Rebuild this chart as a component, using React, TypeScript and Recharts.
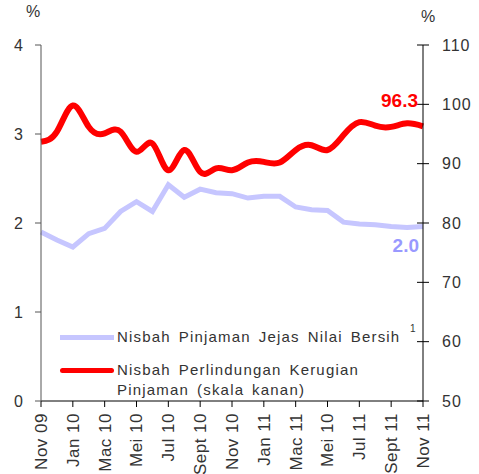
import { LineChart, Line, XAxis, YAxis, Legend } from 'recharts';

const months = [
  'Nov 09', 'Dis 09', 'Jan 10', 'Feb 10', 'Mac 10', 'Apr 10', 'Mei 10', 'Jun 10',
  'Jul 10', 'Ogos 10', 'Sept 10', 'Okt 10', 'Nov 10', 'Dis 10', 'Jan 11', 'Feb 11',
  'Mac 11', 'Apr 11', 'Mei 11', 'Jun 11', 'Jul 11', 'Ogos 11', 'Sept 11', 'Okt 11', 'Nov 11',
];

// every second month gets a label (the original repeats "Mei 10")
const tickLabels = [
  'Nov 09', 'Jan 10', 'Mac 10', 'Mei 10', 'Jul 10', 'Sept 10', 'Nov 10',
  'Jan 11', 'Mac 11', 'Mei 10', 'Jul 11', 'Sept 11', 'Nov 11',
];

const impairedRatio = [
  1.90, 1.81, 1.73, 1.88, 1.94, 2.13, 2.24, 2.13, 2.43, 2.29, 2.38, 2.34, 2.33,
  2.28, 2.30, 2.30, 2.18, 2.15, 2.14, 2.01, 1.99, 1.98, 1.96, 1.95, 1.96,
];

const coverageRatio = [
  93.7, 95.4, 99.8, 96.2, 95.1, 95.4, 92.0, 93.4, 88.9, 92.3, 88.6, 89.2, 88.9,
  90.2, 90.3, 90.2, 92.3, 93.1, 92.3, 94.8, 97.0, 96.4, 96.2, 96.8, 96.3,
];

const leftTicks = [0, 1, 2, 3, 4];
const rightTicks = [50, 60, 70, 80, 90, 100, 110];

const data = months.map((m, i) => ({
  month: m,
  impaired: impairedRatio[i],
  coverage: coverageRatio[i],
}));

const FONT = '"Liberation Sans", Arial, sans-serif';
const TEXT = '#333333';

const XTick = (props: any) => {
  const { x, y, index } = props;
  return (
    <text
      x={x}
      y={y}
      transform={`rotate(-90 ${x} ${y})`}
      textAnchor="end"
      dy="0.35em"
      fontSize={17}
      letterSpacing={0.5}
      fontFamily={FONT}
      fill={TEXT}
    >
      {tickLabels[index]}
    </text>
  );
};

const RightTick = (props: any) => {
  const { x, y, payload } = props;
  const axisX = x - 19;
  return (
    <g>
      <line x1={axisX - 6} x2={axisX} y1={y} y2={y} stroke="#000" />
      <text x={x} y={y} dy="0.35em" fontSize={16} letterSpacing={1} fontFamily={FONT} fill={TEXT}>
        {payload.value}
      </text>
    </g>
  );
};

const endLabel = (color: string, dx: number, dy: number, text: string) => (props: any) => {
  const { x, y, index } = props;
  if (index !== months.length - 1) return null;
  return (
    <text
      x={x + dx}
      y={y + dy}
      textAnchor="end"
      fontSize={19}
      fontWeight="bold"
      fontFamily={FONT}
      fill={color}
    >
      {text}
    </text>
  );
};

const renderLegend = () => (
  <div style={{ fontFamily: FONT, fontSize: 15, color: TEXT, letterSpacing: 1.2, wordSpacing: 2.5, lineHeight: '20px' }}>
    <div style={{ display: 'flex', alignItems: 'flex-start', height: 33, position: 'relative' }}>
      <span style={{ width: 54, height: 5, background: '#c6c6ff', marginTop: 8, marginRight: 3 }} />
      <span>Nisbah Pinjaman Jejas Nilai Bersih</span>
      <span style={{ position: 'absolute', left: 350, top: -8, fontSize: 10, letterSpacing: 0 }}>1</span>
    </div>
    <div style={{ display: 'flex', alignItems: 'flex-start' }}>
      <span style={{ width: 54, height: 5, background: '#ff0000', borderRadius: 3, marginTop: 8, marginRight: 3 }} />
      <span>
        Nisbah Perlindungan Kerugian
        <br />
        Pinjaman (skala kanan)
      </span>
    </div>
  </div>
);

const App = () => (
  <div style={{ position: 'absolute', left: 0, top: 0, width: 479, height: 474, background: '#fff' }}>
    <div style={{ position: 'absolute', left: 26, top: 3, fontFamily: FONT, fontSize: 16, color: TEXT }}>%</div>
    <div style={{ position: 'absolute', left: 421, top: 8, fontFamily: FONT, fontSize: 16, color: TEXT }}>%</div>
    <LineChart width={479} height={474} data={data} margin={{ top: 45, right: 0, bottom: 0, left: 0 }}>
      <XAxis
        dataKey="month"
        interval={1}
        height={73}
        tickSize={6}
        tickMargin={6}
        stroke="#000"
        tick={<XTick />}
        padding={{ left: 0, right: 0 }}
      />
      <YAxis
        yAxisId="left"
        domain={[0, 4]}
        ticks={leftTicks}
        width={41}
        tickSize={6}
        tickMargin={12}
        stroke="#555"
        tick={{ fontSize: 16, fill: TEXT, fontFamily: FONT }}
      />
      <YAxis
        yAxisId="right"
        orientation="right"
        domain={[50, 110]}
        ticks={rightTicks}
        width={56}
        tickSize={6}
        tickMargin={13}
        stroke="#000"
        tick={<RightTick />}
      />
      <Legend
        verticalAlign="middle"
        align="center"
        content={renderLegend}
        wrapperStyle={{ left: 60, top: 327, width: 370 }}
      />
      <Line
        yAxisId="left"
        dataKey="impaired"
        name="Nisbah Pinjaman Jejas Nilai Bersih"
        type="linear"
        stroke="#c6c6ff"
        strokeWidth={5}
        dot={false}
        label={endLabel('#9999ff', -4, 25, '2.0')}
        isAnimationActive={false}
      />
      <Line
        yAxisId="right"
        dataKey="coverage"
        name="Nisbah Perlindungan Kerugian Pinjaman (skala kanan)"
        type="natural"
        stroke="#ff0000"
        strokeWidth={6}
        dot={false}
        label={endLabel('#ff0000', -5, -19, '96.3')}
        isAnimationActive={false}
      />
    </LineChart>
  </div>
);

export default App;
